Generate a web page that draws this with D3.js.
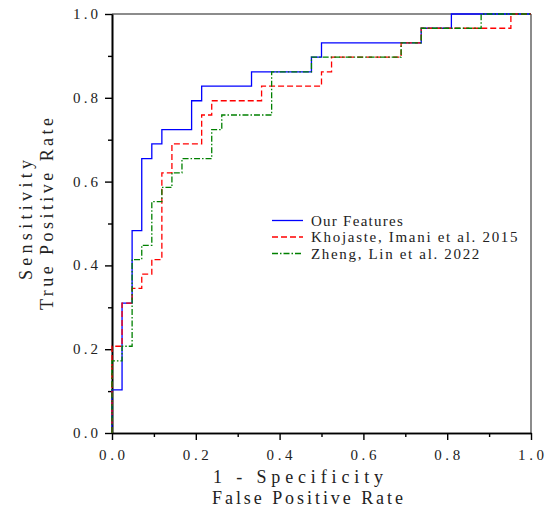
<!DOCTYPE html>
<html><head><meta charset="utf-8">
<script src="https://cdn.jsdelivr.net/npm/d3@7"></script>
<style>body{margin:0;background:#fff}svg{display:block}</style>
</head><body><svg id="c" width="546" height="517"></svg>
<script>
// ---- data ----
const majorTicks = [0, 0.2, 0.4, 0.6, 0.8, 1.0];
const minorTicks = [0.1, 0.3, 0.5, 0.7, 0.9];
const tickLabels = ["0.0", "0.2", "0.4", "0.6", "0.8", "1.0"];
const seriesNames = ["Our Features", "Khojaste, Imani et al. 2015", "Zheng, Lin et al. 2022"];

const oursFPR = [0, 0, .024, .024, .048, .048, .071, .071, .095, .095, .119, .119, .190, .190, .214, .214, .333, .333, .476, .476, .500, .500, .738, .738, .810, .810, 1];
const oursTPR = [0, .103, .103, .310, .310, .483, .483, .655, .655, .690, .690, .724, .724, .793, .793, .828, .828, .862, .862, .897, .897, .931, .931, .966, .966, 1, 1];

const khojasteFPR = [0, 0, .024, .024, .048, .048, .071, .071, .095, .095, .119, .119, .143, .143, .214, .214, .238, .238, .357, .357, .500, .500, .524, .524, .690, .690, .738, .738, .952, .952, 1];
const khojasteTPR = [0, .207, .207, .310, .310, .345, .345, .379, .379, .414, .414, .621, .621, .690, .690, .759, .759, .793, .793, .828, .828, .862, .862, .897, .897, .931, .931, .966, .966, 1, 1];

const zhengFPR = [0, 0, .024, .024, .048, .048, .071, .071, .095, .095, .119, .119, .143, .143, .167, .167, .238, .238, .262, .262, .381, .381, .476, .476, .690, .690, .738, .738, .881, .881, 1];
const zhengTPR = [0, .172, .172, .207, .207, .414, .414, .448, .448, .552, .552, .586, .586, .621, .621, .655, .655, .724, .724, .759, .759, .862, .862, .897, .897, .931, .931, .966, .966, 1, 1];

const xTitleLines = ["1 - Specificity", "False Positive Rate"];
const yTitleLines = ["Sensitivity", "True Positive Rate"];

// ---- styles ----
const seriesColors = ["#0000ff", "#ff0000", "#008000"];
const seriesDash = [null, "6,3", "6,2,1.5,2"];
const FONT = "'Liberation Serif', 'DejaVu Serif', serif";
const TEXT = "#222";

const series = [
  {name: seriesNames[0], fpr: oursFPR, tpr: oursTPR},
  {name: seriesNames[1], fpr: khojasteFPR, tpr: khojasteTPR},
  {name: seriesNames[2], fpr: zhengFPR, tpr: zhengTPR}
];

const L = 112, R = 531, T = 14, B = 433;
const svg = d3.select("#c");
const x = d3.scaleLinear().domain([0, 1]).range([L, R]);
const y = d3.scaleLinear().domain([0, 1]).range([B, T]);

// top/right frame (gray)
svg.append("line").attr("x1", L).attr("x2", R).attr("y1", T).attr("y2", T)
  .attr("stroke", "#8c8c8c").attr("stroke-width", 2);
svg.append("line").attr("x1", R).attr("x2", R).attr("y1", T).attr("y2", B)
  .attr("stroke", "#8c8c8c").attr("stroke-width", 2);

function styleAxis(g) {
  g.selectAll("path.domain").attr("stroke", "#000").attr("stroke-width", 1.6);
  g.selectAll(".tick line").attr("stroke", "#000").attr("stroke-width", 1.4);
  g.selectAll(".tick text").remove();
}

// minor ticks
svg.append("g").attr("transform", `translate(0,${B})`)
  .call(d3.axisBottom(x).tickValues(minorTicks).tickSize(4).tickSizeOuter(0).tickFormat(""))
  .call(styleAxis);
svg.append("g").attr("transform", `translate(${L},0)`)
  .call(d3.axisLeft(y).tickValues(minorTicks).tickSize(4).tickSizeOuter(0).tickFormat(""))
  .call(styleAxis);
// major ticks
svg.append("g").attr("transform", `translate(0,${B})`)
  .call(d3.axisBottom(x).tickValues(majorTicks).tickSize(7).tickSizeOuter(0))
  .call(styleAxis);
svg.append("g").attr("transform", `translate(${L},0)`)
  .call(d3.axisLeft(y).tickValues(majorTicks).tickSize(7).tickSizeOuter(0))
  .call(styleAxis);

// tick labels
svg.append("g").selectAll("text").data(majorTicks).join("text")
  .attr("x", d => x(d)).attr("y", 460)
  .attr("text-anchor", "middle")
  .attr("font-family", FONT).attr("font-size", 15).attr("fill", TEXT)
  .attr("textLength", 26).attr("lengthAdjust", "spacing")
  .text((d, i) => tickLabels[i]);
svg.append("g").selectAll("text").data(majorTicks).join("text")
  .attr("x", 98).attr("y", d => y(d) + 5)
  .attr("text-anchor", "end")
  .attr("font-family", FONT).attr("font-size", 15).attr("fill", TEXT)
  .attr("textLength", 25).attr("lengthAdjust", "spacing")
  .text((d, i) => tickLabels[i]);

// axis titles
const xTitlePos = [{x: 213, y: 483, len: 170}, {x: 212, y: 504, len: 191}];
svg.append("g").selectAll("text").data(xTitleLines).join("text")
  .attr("x", (d, i) => xTitlePos[i].x).attr("y", (d, i) => xTitlePos[i].y)
  .attr("font-family", FONT).attr("font-size", 18).attr("fill", TEXT)
  .attr("textLength", (d, i) => xTitlePos[i].len).attr("lengthAdjust", "spacing")
  .text(d => d);
const yTitlePos = [{bx: 32, start: 280, len: 120}, {bx: 53, start: 310, len: 192}];
svg.append("g").selectAll("text").data(yTitleLines).join("text")
  .attr("transform", (d, i) => `translate(${yTitlePos[i].bx},${yTitlePos[i].start}) rotate(-90)`)
  .attr("font-family", FONT).attr("font-size", 18).attr("fill", TEXT)
  .attr("textLength", (d, i) => yTitlePos[i].len).attr("lengthAdjust", "spacing")
  .text(d => d);

// curves
const line = d3.line().x(d => x(d[0])).y(d => y(d[1]));
series.forEach((s, i) => {
  const pts = s.fpr.map((f, k) => [f, s.tpr[k]]);
  svg.append("path").datum(pts)
    .attr("d", line)
    .attr("fill", "none")
    .attr("stroke", seriesColors[i])
    .attr("stroke-width", 1.3)
    .attr("stroke-dasharray", seriesDash[i]);
});

// legend
const legY = [220.5, 237, 253.5];
const lg = svg.append("g");
series.forEach((s, i) => {
  lg.append("line").attr("x1", 272).attr("x2", 303).attr("y1", legY[i]).attr("y2", legY[i])
    .attr("stroke", seriesColors[i]).attr("stroke-width", 1.3)
    .attr("stroke-dasharray", seriesDash[i]);
  lg.append("text").attr("x", 311).attr("y", legY[i] + 5)
    .attr("font-family", FONT).attr("font-size", 15).attr("fill", TEXT)
    .attr("textLength", s.name.length * 7.65).attr("lengthAdjust", "spacing")
    .text(s.name);
});
</script></body></html>
